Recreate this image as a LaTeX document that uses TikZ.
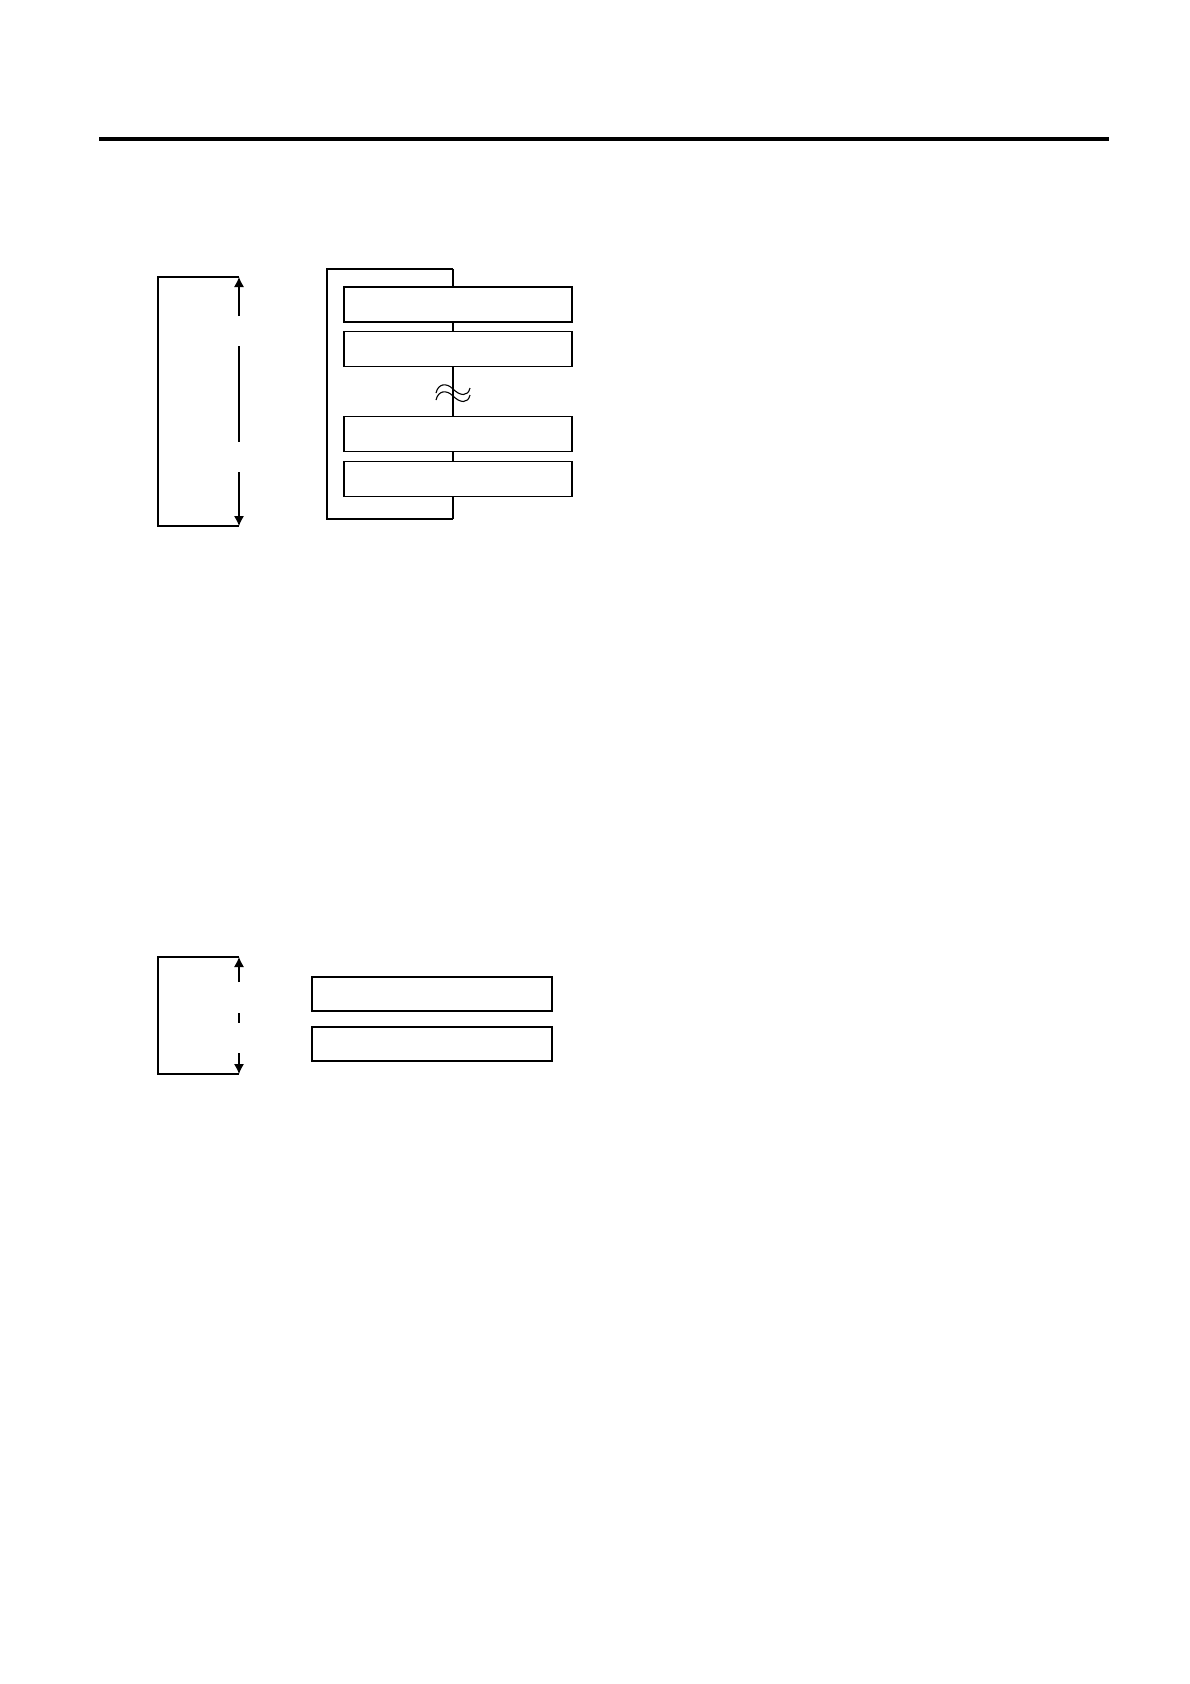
\documentclass[tikz,border=0pt]{standalone}
\usetikzlibrary{arrows.meta}

\begin{document}
\begin{tikzpicture}[x=0.5bp,y=-0.5bp,line width=0.55pt,
	bar node/.style={draw,fill=white,inner sep=0pt,minimum width=114bp,minimum height=17.5bp},
	low bar/.style={draw,fill=white,inner sep=0pt,minimum width=120bp,minimum height=17bp,line width=0.8pt},
	dim tip/.style={-{Latex[length=5bp,width=5bp]}}]
	\useasboundingbox (0,0) rectangle (1190,1684);
	% rule at the head of the page
	\coordinate (rule l) at (99,139);
	\coordinate (rule r) at (1109,139);
	\draw[line width=2bp] (rule l) -- (rule r);

	% upper stack
	\coordinate (dim top) at (239,277);
	\coordinate (dim bot) at (239,526);
	\coordinate (gap a) at (239,316);
	\coordinate (gap b) at (239,346);
	\coordinate (gap c) at (239,442);
	\coordinate (gap d) at (239,472);
	\draw (dim top) -- ++(-81,0) |- (dim bot);
	\draw[dim tip] (gap a) -- (dim top);
	\draw (gap b) -- (gap c);
	\draw[dim tip] (gap d) -- (dim bot);

	\coordinate (frame top) at (453,269);
	\coordinate (frame bot) at (453,519);
	\draw (frame top) -| (327,519) -- (frame bot);
	\draw (frame top) -- (frame bot);
	\node[bar node] (bar1) at (458,304.5) {};
	\node[bar node] (bar2) at (458,349) {};
	\node[bar node] (bar3) at (458,434) {};
	\node[bar node] (bar4) at (458,479) {};
	% break mark
	\foreach \dy in {0,7}
		\draw[yshift=-\dy*0.5bp] (436,393) .. controls (438,384) and (446,382) .. (453,389)
			.. controls (460,396) and (468,397) .. (470,388);

	% lower pair
	\coordinate (dim2 top) at (239,957);
	\coordinate (dim2 bot) at (239,1074);
	\coordinate (gap2 a) at (239,982);
	\coordinate (gap2 b) at (239,1013);
	\coordinate (gap2 c) at (239,1023);
	\coordinate (gap2 d) at (239,1053);
	\draw (dim2 top) -- ++(-81,0) |- (dim2 bot);
	\draw[dim tip] (gap2 a) -- (dim2 top);
	\draw (gap2 b) -- (gap2 c);
	\draw[dim tip] (gap2 d) -- (dim2 bot);
	\node[low bar] (low1) at (432,994) {};
	\node[low bar] (low2) at (432,1044) {};
\end{tikzpicture}
\end{document}
